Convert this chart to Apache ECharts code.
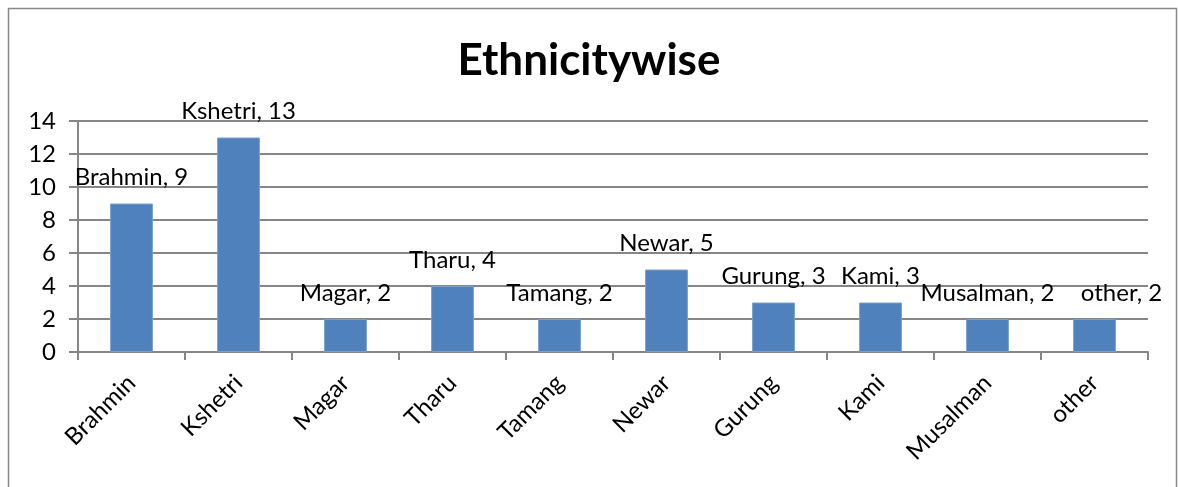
<!DOCTYPE html>
<html>
<head>
<meta charset="utf-8">
<script src="https://cdn.jsdelivr.net/npm/echarts@6/dist/echarts.min.js"></script>
<style>
  html, body { margin: 0; padding: 0; background: #fff; }
  #chart { width: 1178px; height: 487px; }
</style>
</head>
<body>
<div id="chart"></div>
<script>
// data
var categories = ["Brahmin", "Kshetri", "Magar", "Tharu", "Tamang", "Newar", "Gurung", "Kami", "Musalman", "other"];
var counts = [9, 13, 2, 4, 2, 5, 3, 3, 2, 2];
var titleText = "Ethnicitywise";

var chart = echarts.init(document.getElementById("chart"));
var font = "Lato, 'Open Sans', sans-serif";

// the last label is nudged right in the original so it doesn't collide
var barData = counts.map(function (v, i) {
  if (i === counts.length - 1) {
    return { value: v, label: { offset: [27, 0] } };
  }
  return v;
});

var option = {
  animation: false,
  graphic: [{
    type: "rect",
    shape: { x: 8.5, y: 8.5, width: 1168, height: 500 },
    style: { fill: "none", stroke: "#898989", lineWidth: 1.5 },
    silent: true
  }],
  title: {
    text: titleText,
    left: "center",
    top: 34,
    textStyle: { fontFamily: font, fontSize: 44, fontWeight: "bold", color: "#000" }
  },
  grid: { left: 78, right: 30, top: 121, bottom: 135, containLabel: false },
  xAxis: {
    type: "category",
    data: categories,
    axisLine: { lineStyle: { color: "#868686", width: 2 } },
    axisTick: { show: true, alignWithLabel: false, length: 8, lineStyle: { color: "#868686", width: 2 } },
    axisLabel: {
      rotate: 45, interval: 0, margin: 27,
      fontFamily: font, fontSize: 24, color: "#000"
    }
  },
  yAxis: {
    type: "value",
    min: 0, max: 14, interval: 2,
    axisLine: { show: true, lineStyle: { color: "#868686", width: 2 } },
    axisTick: { show: true, length: 9, lineStyle: { color: "#868686", width: 2 } },
    splitLine: { show: true, lineStyle: { color: "#868686", width: 2 } },
    axisLabel: { margin: 22, fontFamily: font, fontSize: 24, color: "#000" }
  },
  series: [{
    type: "bar",
    data: barData,
    barWidth: "40%",
    itemStyle: { color: "#4f81bd", borderColor: "#7aa0cf", borderWidth: 1 },
    label: {
      show: true,
      position: "top",
      distance: 14,
      fontFamily: font, fontSize: 24, color: "#000",
      formatter: function (p) { return p.name + ", " + p.value; }
    }
  }]
};
chart.setOption(option);
</script>
</body>
</html>
